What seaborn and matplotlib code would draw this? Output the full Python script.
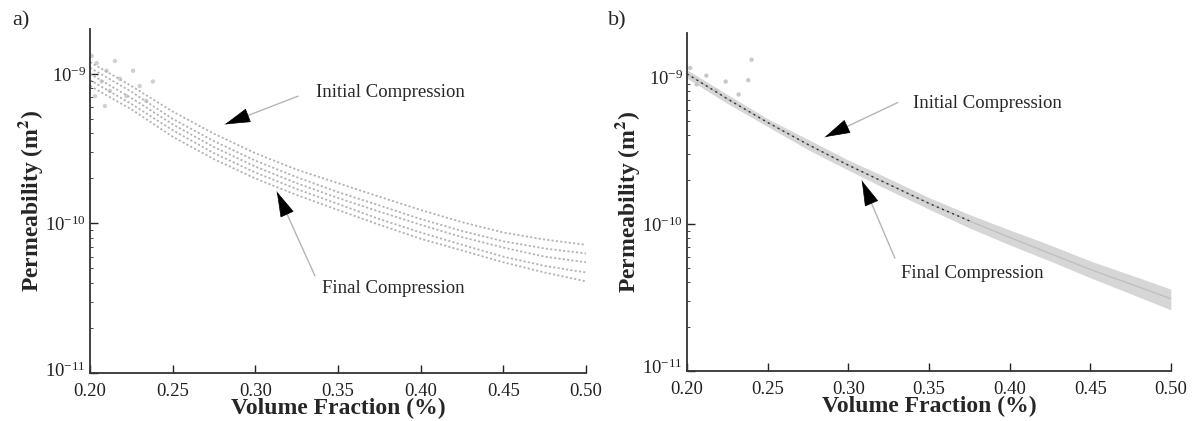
import numpy as np
import pandas as pd
import matplotlib.pyplot as plt
import matplotlib.transforms as mtransforms
import seaborn as sns

# Volume fraction grid (shared by both panels)
vol_frac = [0.20, 0.225, 0.25, 0.275, 0.30, 0.325, 0.35, 0.375, 0.40, 0.425, 0.45, 0.475, 0.50]

# Panel a: five compression curves, permeability in m^2
perm_a1 = [1.20e-9, 8.3e-10, 5.6e-10, 3.98e-10, 2.95e-10, 2.29e-10, 1.86e-10, 1.51e-10, 1.23e-10, 1.02e-10, 8.7e-11, 7.8e-11, 7.2e-11]
perm_a2 = [1.10e-9, 7.6e-10, 5.0e-10, 3.55e-10, 2.63e-10, 2.04e-10, 1.62e-10, 1.32e-10, 1.07e-10, 8.9e-11, 7.6e-11, 6.8e-11, 6.3e-11]
perm_a3 = [1.00e-9, 6.9e-10, 4.6e-10, 3.24e-10, 2.40e-10, 1.86e-10, 1.48e-10, 1.20e-10, 9.8e-11, 8.1e-11, 6.9e-11, 6.0e-11, 5.5e-11]
perm_a4 = [9.1e-10, 6.3e-10, 4.2e-10, 2.95e-10, 2.19e-10, 1.70e-10, 1.35e-10, 1.07e-10, 8.7e-11, 7.2e-11, 6.0e-11, 5.2e-11, 4.7e-11]
perm_a5 = [8.3e-10, 5.8e-10, 3.8e-10, 2.69e-10, 2.00e-10, 1.55e-10, 1.23e-10, 9.8e-11, 7.9e-11, 6.6e-11, 5.5e-11, 4.7e-11, 4.1e-11]

# Panel a: scattered early readings near the start
scat_a_vf = [0.201, 0.203, 0.204, 0.207, 0.209, 0.210, 0.212, 0.215, 0.218, 0.222, 0.226, 0.230, 0.234, 0.238]
scat_a_perm = [1.32e-9, 7.1e-10, 1.18e-9, 8.9e-10, 6.1e-10, 1.05e-9, 7.7e-10, 1.22e-9, 9.3e-10, 7.1e-10, 1.05e-9, 8.3e-10, 6.6e-10, 8.9e-10]

# Panel b: band of measurements (centre, upper, lower edge)
perm_b_mid = [1.05e-9, 7.1e-10, 4.9e-10, 3.47e-10, 2.51e-10, 1.86e-10, 1.38e-10, 1.05e-10, 8.1e-11, 6.3e-11, 4.9e-11, 3.9e-11, 3.1e-11]
perm_b_hi = [1.12e-9, 7.6e-10, 5.2e-10, 3.76e-10, 2.72e-10, 2.04e-10, 1.51e-10, 1.16e-10, 9.1e-11, 7.2e-11, 5.6e-11, 4.5e-11, 3.6e-11]
perm_b_lo = [9.8e-10, 6.6e-10, 4.6e-10, 3.2e-10, 2.32e-10, 1.70e-10, 1.26e-10, 9.4e-11, 7.2e-11, 5.6e-11, 4.3e-11, 3.35e-11, 2.6e-11]

scat_b_vf = [0.202, 0.206, 0.212, 0.218, 0.224, 0.232, 0.238, 0.240]
scat_b_perm = [1.15e-9, 8.9e-10, 1.02e-9, 8.1e-10, 9.3e-10, 7.6e-10, 9.5e-10, 1.31e-9]

x_ticks = [0.20, 0.25, 0.30, 0.35, 0.40, 0.45, 0.50]
x_tick_labels = ["0.20", "0.25", "0.30", "0.35", "0.40", "0.45", "0.50"]

sns.set_style("ticks")
plt.rcParams["font.family"] = ["Liberation Serif", "DejaVu Serif"]
plt.rcParams["mathtext.fontset"] = "stix"

df_a = pd.DataFrame({
    "vf": vol_frac * 5,
    "perm": perm_a1 + perm_a2 + perm_a3 + perm_a4 + perm_a5,
    "run": sum([[i] * len(vol_frac) for i in range(5)], []),
})
df_b = pd.DataFrame({"vf": vol_frac, "perm": perm_b_mid})

fig = plt.figure(figsize=(11.96, 4.21), dpi=100)
ax_a = fig.add_axes([0.0753, 0.114, 0.4147, 0.817])
ax_b = fig.add_axes([0.5744, 0.119, 0.4046, 0.803])

sns.lineplot(data=df_a, x="vf", y="perm", units="run", estimator=None,
             color="#b4b4b4", linestyle=(0, (1.2, 1.2)), linewidth=1.3, ax=ax_a)
sns.scatterplot(x=scat_a_vf, y=scat_a_perm, color="#d0d0d0", s=10,
                edgecolor="none", ax=ax_a)

ax_b.fill_between(vol_frac, perm_b_lo, perm_b_hi, color="#d6d6d6", linewidth=0)
sns.lineplot(data=df_b, x="vf", y="perm", color="#c0c0c0", linewidth=1.0, ax=ax_b)
sns.lineplot(data=df_b[df_b["vf"] <= 0.375], x="vf", y="perm", color="#333333",
             linestyle=(0, (1.5, 2.5)), linewidth=1.0, ax=ax_b)
sns.scatterplot(x=scat_b_vf, y=scat_b_perm, color="#c8c8c8", s=10,
                edgecolor="none", ax=ax_b)


def arrow(ax, tip, start):
    ax.annotate("", xy=tip, xytext=start,
                arrowprops=dict(arrowstyle="-", color="#b5b5b5", lw=1.0,
                                shrinkA=0, shrinkB=0))
    # short black arrowhead at the tip
    lx = tip[0] + 0.22 * (start[0] - tip[0])
    ly = 10 ** (np.log10(tip[1]) + 0.22 * (np.log10(start[1]) - np.log10(tip[1])))
    ax.annotate("", xy=tip, xytext=(lx, ly),
                arrowprops=dict(arrowstyle="-|>,head_length=1.4,head_width=0.4",
                                color="black", lw=0.5, mutation_scale=12,
                                shrinkA=0, shrinkB=0))


for ax in (ax_a, ax_b):
    ax.set_yscale("log")
    ax.set_xlim(0.20, 0.50)
    ax.set_ylim(1e-11, 10 ** -8.70)
    ax.set_xticks(x_ticks)
    ax.set_xticklabels(x_tick_labels)
    ax.set_yticks([1e-11, 1e-10, 1e-9])
    ax.tick_params(axis="both", which="major", direction="in", length=6,
                   width=1, labelsize=13.5, colors="#222222")
    ax.tick_params(axis="x", which="major", pad=7)
    ax.tick_params(axis="y", which="major", pad=3)
    ax.tick_params(axis="y", which="minor", direction="in", length=2.5, width=0.6)
    ax.tick_params(axis="x", which="minor", bottom=False)
    ax.set_xlabel("Volume Fraction (%)", fontsize=17, fontweight="bold", labelpad=-1)
    ax.set_ylabel("Permeability (m$^\\mathbf{2}$)", fontsize=17, fontweight="bold", labelpad=0)
    for side in ("left", "bottom"):
        ax.spines[side].set_linewidth(1.3)
        ax.spines[side].set_color("#333333")
    sns.despine(ax=ax)
    # lift the lowest decade label a little off the 0.20 label
    low = ax.get_yticklabels()[0]
    low.set_transform(low.get_transform() + mtransforms.ScaledTranslation(0, 3 / 72, fig.dpi_scale_trans))

ax_a.text(0.3814, 7.5e-10, "Initial Compression", fontsize=13.5, ha="center", va="center")
arrow(ax_a, (0.2816, 4.6e-10), (0.3258, 7.1e-10))
ax_a.text(0.3832, 3.66e-11, "Final Compression", fontsize=13.5, ha="center", va="center")
arrow(ax_a, (0.313, 1.63e-10), (0.336, 4.47e-11))

ax_b.text(0.3865, 6.6e-10, "Initial Compression", fontsize=13.5, ha="center", va="center")
arrow(ax_b, (0.2855, 3.9e-10), (0.3307, 6.7e-10))
ax_b.text(0.3766, 4.6e-11, "Final Compression", fontsize=13.5, ha="center", va="center")
arrow(ax_b, (0.3084, 1.97e-10), (0.3289, 5.85e-11))

fig.text(0.010, 0.95, "a)", fontsize=16, va="center")
fig.text(0.508, 0.95, "b)", fontsize=16, va="center")

fig.savefig("out.png", dpi=100)
